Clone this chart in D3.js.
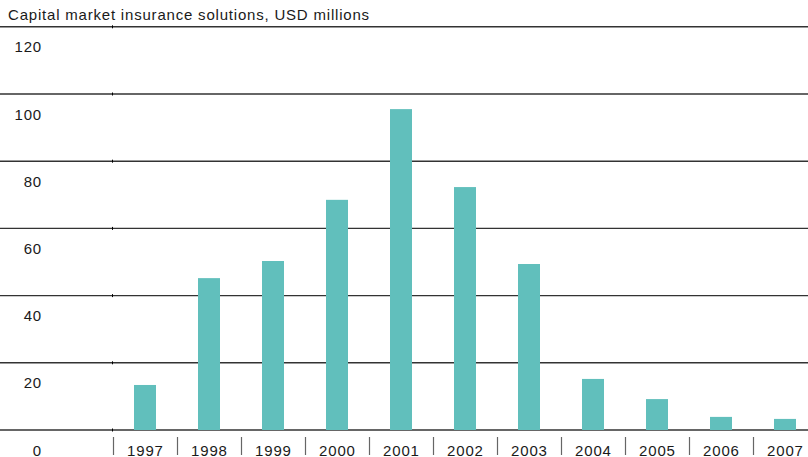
<!DOCTYPE html>
<html><head><meta charset="utf-8">
<script src="https://cdn.jsdelivr.net/npm/d3@7"></script>
<style>body{margin:0;background:#fff}svg{display:block}text{font-family:"Liberation Sans",Arial,sans-serif;fill:#1a1a1a;letter-spacing:0.8px}</style>
</head><body><svg id="c" width="808" height="457"></svg>
<script>
const title = "Capital market insurance solutions, USD millions";
const years = ["1997","1998","1999","2000","2001","2002","2003","2004","2005","2006","2007"];
const values = [13.4,45.2,50.3,68.5,95.5,72.3,49.4,15.2,9.2,3.9,3.3];
const yTicks = [0,20,40,60,80,100,120];

const svg = d3.select("#c");
const W = 808;
const x = d3.scaleBand().domain(years).range([113, 817]).paddingInner(0).paddingOuter(0);
const y = d3.scaleLinear().domain([0, 120]).range([430, 26.8]);
const barW = 22;

svg.append("text").attr("x", 8).attr("y", 19.5).attr("font-size", 15).text(title);

// gridlines
const g = svg.append("g");
g.selectAll("line.grid").data(yTicks).join("line")
  .attr("x1", 0).attr("x2", W)
  .attr("y1", d => y(d)).attr("y2", d => y(d))
  .attr("stroke", "#333").attr("stroke-width", 1.4);
g.selectAll("line.tick").data(yTicks).join("line")
  .attr("x1", 112.5).attr("x2", 112.5)
  .attr("y1", d => y(d) - 1.5).attr("y2", d => y(d) + 1.5)
  .attr("stroke", "#000").attr("stroke-width", 1);
g.selectAll("text").data(yTicks).join("text")
  .attr("x", 42).attr("y", d => y(d) + 25.5)
  .attr("text-anchor", "end").attr("font-size", 15)
  .text(d => d);

// bars
svg.append("g").selectAll("rect").data(years).join("rect")
  .attr("x", d => x(d) + x.bandwidth()/2 - barW/2)
  .attr("width", barW)
  .attr("y", (d,i) => y(values[i]))
  .attr("height", (d,i) => y(0) - y(values[i]))
  .attr("fill", "#61bfbc");

// x axis separators and labels
const xa = svg.append("g");
xa.selectAll("line").data(years).join("line")
  .attr("x1", d => x(d) + 0.5).attr("x2", d => x(d) + 0.5)
  .attr("y1", 437).attr("y2", 455)
  .attr("stroke", "#666").attr("stroke-width", 1.2);
xa.selectAll("text").data(years).join("text")
  .attr("x", d => x(d) + x.bandwidth()/2 + 0.4).attr("y", 455.5)
  .attr("text-anchor", "middle").attr("font-size", 15)
  .text(d => d);
</script></body></html>
